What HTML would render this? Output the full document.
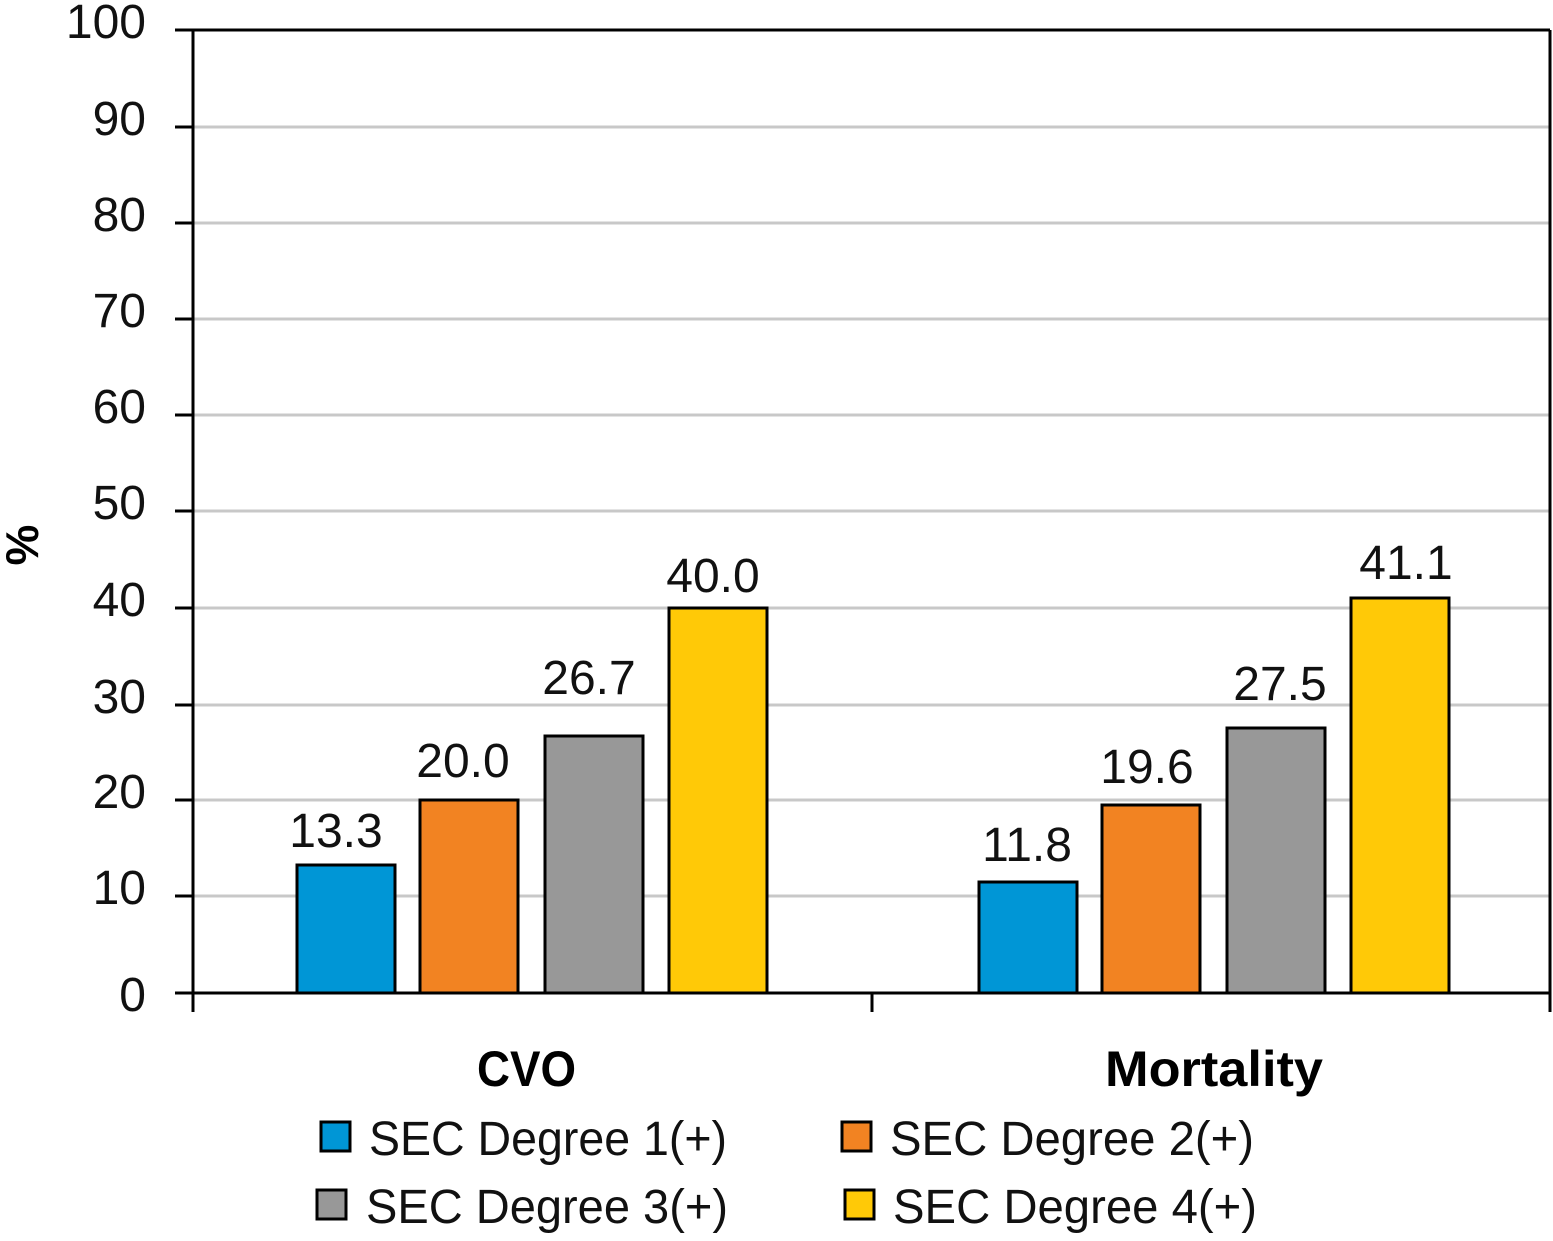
<!DOCTYPE html>
<html><head><meta charset="utf-8"><style>html,body{margin:0;padding:0;background:#fff}</style></head>
<body>
<svg width="1553" height="1236" viewBox="0 0 1553 1236" xmlns="http://www.w3.org/2000/svg" font-family="Liberation Sans, sans-serif">
<g stroke="#c8c8c8" stroke-width="3">
<line x1="193" y1="127" x2="1550" y2="127"/>
<line x1="193" y1="223" x2="1550" y2="223"/>
<line x1="193" y1="319" x2="1550" y2="319"/>
<line x1="193" y1="415" x2="1550" y2="415"/>
<line x1="193" y1="511" x2="1550" y2="511"/>
<line x1="193" y1="608" x2="1550" y2="608"/>
<line x1="193" y1="705" x2="1550" y2="705"/>
<line x1="193" y1="800" x2="1550" y2="800"/>
<line x1="193" y1="896" x2="1550" y2="896"/>
</g>
<g stroke="#000" stroke-width="3">
<line x1="193" y1="30" x2="1550" y2="30"/>
<line x1="1550" y1="30" x2="1550" y2="1012"/>
<line x1="193" y1="30" x2="193" y2="1012"/>
<line x1="193" y1="993" x2="1550" y2="993"/>
<line x1="872" y1="993" x2="872" y2="1012"/>
<line x1="175" y1="30" x2="193" y2="30"/>
<line x1="175" y1="127" x2="193" y2="127"/>
<line x1="175" y1="223" x2="193" y2="223"/>
<line x1="175" y1="319" x2="193" y2="319"/>
<line x1="175" y1="415" x2="193" y2="415"/>
<line x1="175" y1="511" x2="193" y2="511"/>
<line x1="175" y1="608" x2="193" y2="608"/>
<line x1="175" y1="705" x2="193" y2="705"/>
<line x1="175" y1="800" x2="193" y2="800"/>
<line x1="175" y1="896" x2="193" y2="896"/>
<line x1="175" y1="993" x2="193" y2="993"/>
</g>
<g font-size="48" text-anchor="end" fill="#111">
<text x="146" y="38">100</text><text x="146" y="135">90</text><text x="146" y="231">80</text>
<text x="146" y="327">70</text><text x="146" y="423">60</text><text x="146" y="519">50</text>
<text x="146" y="616">40</text><text x="146" y="713">30</text><text x="146" y="808">20</text>
<text x="146" y="904">10</text><text x="146" y="1011">0</text>
</g>
<text transform="translate(38,545) rotate(-90)" font-size="46" font-weight="bold" text-anchor="middle">%</text>
<g stroke="#000" stroke-width="3">
<rect x="297" y="865" width="98" height="128" fill="#0096d6"/>
<rect x="420" y="800" width="98" height="193" fill="#f28322"/>
<rect x="545" y="736" width="98" height="257" fill="#989898"/>
<rect x="669" y="608" width="98" height="385" fill="#ffc907"/>
<rect x="979" y="882" width="98" height="111" fill="#0096d6"/>
<rect x="1102" y="805" width="98" height="188" fill="#f28322"/>
<rect x="1227" y="728" width="98" height="265" fill="#989898"/>
<rect x="1351" y="598" width="98" height="395" fill="#ffc907"/>
</g>
<g font-size="48" text-anchor="middle" fill="#111">
<text x="336" y="847">13.3</text><text x="463" y="777">20.0</text><text x="589" y="694">26.7</text><text x="713" y="592">40.0</text>
<text x="1027" y="861">11.8</text><text x="1147" y="783">19.6</text><text x="1280" y="700">27.5</text><text x="1406" y="579">41.1</text>
</g>
<g font-size="50" font-weight="bold">
<text x="477" y="1086" textLength="99" lengthAdjust="spacingAndGlyphs">CVO</text>
<text x="1105" y="1086" textLength="218" lengthAdjust="spacingAndGlyphs">Mortality</text>
</g>
<g stroke="#000" stroke-width="3">
<rect x="321" y="1122" width="29" height="29" fill="#0096d6"/>
<rect x="842" y="1122" width="29" height="29" fill="#f28322"/>
<rect x="317" y="1190" width="29" height="29" fill="#989898"/>
<rect x="845" y="1190" width="29" height="29" fill="#ffc907"/>
</g>
<g font-size="48" fill="#111">
<text x="369" y="1155" textLength="358" lengthAdjust="spacingAndGlyphs">SEC Degree 1(+)</text>
<text x="890" y="1155" textLength="364" lengthAdjust="spacingAndGlyphs">SEC Degree 2(+)</text>
<text x="366" y="1223" textLength="362" lengthAdjust="spacingAndGlyphs">SEC Degree 3(+)</text>
<text x="893" y="1223" textLength="364" lengthAdjust="spacingAndGlyphs">SEC Degree 4(+)</text>
</g>
</svg>
</body></html>
